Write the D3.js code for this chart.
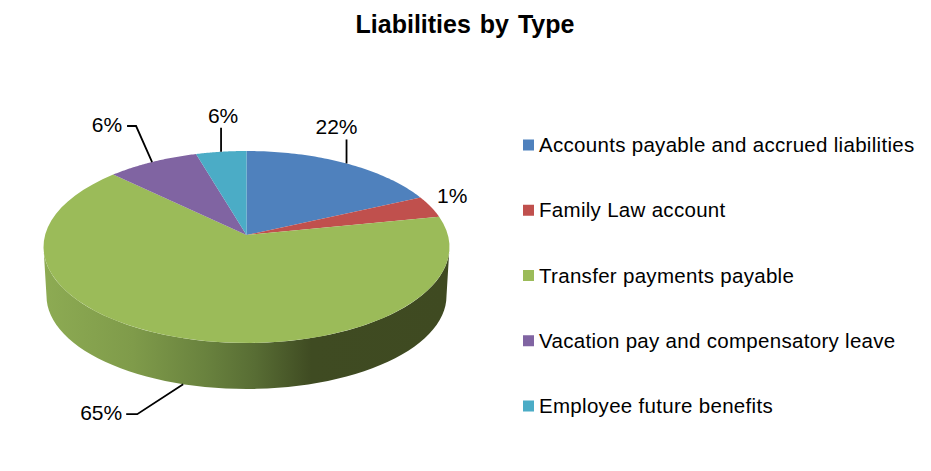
<!DOCTYPE html>
<html>
<head>
<meta charset="utf-8">
<script src="https://cdn.jsdelivr.net/npm/d3@7"></script>
<style>
  html, body { margin: 0; padding: 0; background: #fff; }
  text { font-family: "Liberation Sans", Arial, sans-serif; fill: #000; }
</style>
</head>
<body>
<div id="chart"></div>
<script>
// chart data
const categories = [
    "Accounts payable and accrued liabilities",
    "Family Law account",
    "Transfer payments payable",
    "Vacation pay and compensatory leave",
    "Employee future benefits"
];
// printed labels of the chart
const percentLabels = ["22%", "1%", "65%", "6%", "6%"];
// share of the rim each slice takes up in the tilted 3D drawing
const rimShares = [16.4, 3.5, 68.7, 7.4, 4.0];
const colors = ["#4f81bd", "#c0504d", "#9bbb59", "#8064a2", "#4bacc6"];

const width = 931, height = 471;

// top face ellipse, bottom rim ellipse (narrower because of perspective)
const topX = d3.scaleLinear().domain([-1, 1]).range([43.5, 449.5]);
const topY = d3.scaleLinear().domain([-1, 1]).range([343, 151]);
const bottomX = d3.scaleLinear().domain([-1, 1]).range([46.5, 446.5]);
const bottomY = d3.scaleLinear().domain([-1, 1]).range([389, 203]);
// the slices meet above the middle of the ellipse
const apex = [246.5, 235];

const rim = (a, sx, sy) => [sx(Math.sin(a)), sy(Math.cos(a))];
const line = d3.line();

// sample angles between a and b
function steps(a, b) {
    return d3.range(0, 61).map(i => a + (b - a) * i / 60);
}

const svg = d3.select("#chart").append("svg")
    .attr("width", width)
    .attr("height", height)
    .style("display", "block");

const slices = d3.pie().sort(null).value(d => d)(rimShares);

// side wall shading
const grad = svg.append("defs").append("linearGradient")
    .attr("id", "wallGrad")
    .attr("gradientUnits", "userSpaceOnUse")
    .attr("x1", topX(-1)).attr("x2", topX(1))
    .attr("y1", 0).attr("y2", 0);
[[0, "#8dab53"], [0.22, "#7f9b4a"], [0.4, "#69823e"], [0.52, "#586d34"], [0.66, "#3f4b22"], [1, "#3f4a21"]]
    .forEach(s => grad.append("stop").attr("offset", s[0]).attr("stop-color", s[1]));

// wall only shows on the front half of the pie
const frontStart = Math.PI / 2, frontEnd = Math.PI * 3 / 2;
slices.forEach(s => {
    const a = Math.max(s.startAngle, frontStart);
    const b = Math.min(s.endAngle, frontEnd);
    if (b <= a) return;
    const top = steps(a, b).map(t => rim(t, topX, topY));
    const bottom = steps(b, a).map(t => rim(t, bottomX, bottomY));
    svg.append("path")
        .attr("d", line(top.concat(bottom)) + "Z")
        .attr("fill", "url(#wallGrad)");
});

// top face
slices.forEach((s, i) => {
    const pts = [apex].concat(steps(s.startAngle, s.endAngle).map(t => rim(t, topX, topY)));
    svg.append("path")
        .attr("d", line(pts) + "Z")
        .attr("fill", colors[i]);
});

// leader lines + labels. dx,dy lead from the rim to the elbow,
// run is the flat bit, nudge shifts the rim anchor along the rim
const labelSetup = [
    {dx: 0, dy: -24, run: 0, tx: -10, ty: -5, anchor: "middle"},
    {noLeader: true, nudge: 0, dx: 14, dy: -7, run: 0, tx: -8, ty: 3, anchor: "start"},
    {front: true, nudge: 0.055, dx: -46, dy: 30, run: -11, tx: -4, ty: 6, anchor: "end"},
    {dx: -16, dy: -36, run: -9, tx: -5, ty: 6, anchor: "end"},
    {dx: 0, dy: -24, run: 0, tx: 2, ty: -5, anchor: "middle"}
];

slices.forEach((s, i) => {
    const c = labelSetup[i];
    const mid = (s.startAngle + s.endAngle) / 2 + (c.nudge || 0);
    const p = c.front ? rim(mid, bottomX, bottomY) : rim(mid, topX, topY);
    const elbow = [p[0] + c.dx, p[1] + c.dy];
    const end = [elbow[0] + c.run, elbow[1]];
    if (!c.noLeader) {
        svg.append("path")
            .attr("d", line([p, elbow, end]))
            .attr("fill", "none")
            .attr("stroke", "#000")
            .attr("stroke-width", 1.8);
    }
    svg.append("text")
        .attr("x", end[0] + c.tx)
        .attr("y", end[1] + c.ty)
        .attr("text-anchor", c.anchor)
        .style("font-size", "21px")
        .text(percentLabels[i]);
});

// title
svg.append("text")
    .attr("x", 465)
    .attr("y", 33)
    .attr("text-anchor", "middle")
    .style("font-size", "25px")
    .style("font-weight", "bold")
    .style("word-spacing", "2px")
    .text("Liabilities by Type");

// legend
const legendY = d3.scalePoint().domain(categories).range([145, 406]);
const legend = svg.selectAll("g.legend").data(categories).enter().append("g")
    .attr("class", "legend")
    .attr("transform", d => "translate(523," + legendY(d) + ")");
legend.append("rect")
    .attr("x", 0).attr("y", -5.5)
    .attr("width", 11).attr("height", 11)
    .attr("fill", (d, i) => colors[i]);
legend.append("text")
    .attr("x", 16)
    .attr("y", 7)
    .style("font-size", "20.5px")
    .style("letter-spacing", "0.3px")
    .text(d => d);
</script>
</body>
</html>
